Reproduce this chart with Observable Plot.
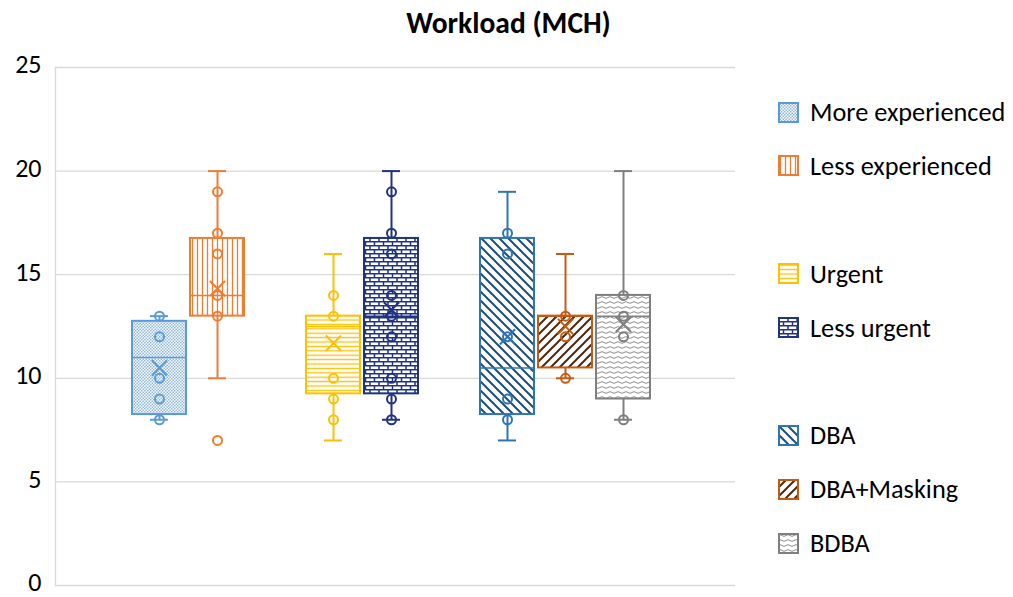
<!DOCTYPE html>
<html>
<head>
<meta charset="utf-8">
<script src="https://cdn.jsdelivr.net/npm/d3@7"></script>
<script src="https://cdn.jsdelivr.net/npm/@observablehq/plot@0.6"></script>
<style>
  html, body { margin: 0; padding: 0; background: #fff; }
  body { width: 1013px; height: 597px; position: relative; overflow: hidden; font-family: Carlito, Calibri, Lato, sans-serif; color: #000; }
  #title { position: absolute; left: 0; top: 5px; width: 1013px; text-align: center; font-weight: bold; font-size: 29.5px; height: 40px; line-height: 36px; padding-left: 4px; box-sizing: border-box; }
  #chart { position: absolute; left: 0; top: 45px; }
  #legend { position: absolute; left: 778px; top: 0; }
  .lg { position: absolute; left: 0; display: flex; align-items: center; white-space: nowrap; font-size: 26.3px; }
  .lg svg { margin-right: 11px; }
</style>
</head>
<body>
<svg width="0" height="0" style="position:absolute">
  <defs>
    <pattern id="p0" patternUnits="userSpaceOnUse" width="3" height="3">
      <rect width="3" height="3" fill="#fff"/>
      <rect width="1.5" height="1.5" fill="#8fb9e4"/>
      <rect x="1.5" y="1.5" width="1.5" height="1.5" fill="#8fb9e4"/>
    </pattern>
    <pattern id="p1" patternUnits="userSpaceOnUse" width="5" height="5">
      <rect width="5" height="5" fill="#fff"/>
      <path d="M2.5 0V5" stroke="#ED7D31" stroke-width="1.3"/>
    </pattern>
    <pattern id="p2" patternUnits="userSpaceOnUse" width="5" height="4.4">
      <rect width="5" height="4.4" fill="#fff"/>
      <path d="M0 2.2H5" stroke="#FFC000" stroke-width="1.3"/>
    </pattern>
    <pattern id="p3" patternUnits="userSpaceOnUse" width="9" height="8">
      <rect width="9" height="8" fill="#fff"/>
      <path d="M0 0.75H9M0 4.75H9M1 0.75V4.75M5.5 4.75V8.75" stroke="#1F3381" stroke-width="1.5"/>
    </pattern>
    <pattern id="p4" patternUnits="userSpaceOnUse" width="9" height="9">
      <rect width="9" height="9" fill="#fff"/>
      <path d="M-2.25 6.75L2.25 11.25M0 0L9 9M6.75 -2.25L11.25 2.25" stroke="#1F4E79" stroke-width="2"/>
    </pattern>
    <pattern id="p5" patternUnits="userSpaceOnUse" width="9" height="9">
      <rect width="9" height="9" fill="#fff"/>
      <path d="M-2.25 2.25L2.25 -2.25M0 9L9 0M6.75 11.25L11.25 6.75" stroke="#4a2a12" stroke-width="2"/>
    </pattern>
    <pattern id="p6" patternUnits="userSpaceOnUse" width="8" height="5">
      <rect width="8" height="5" fill="#fff"/>
      <path d="M0 2.5Q2 0.8 4 2.5T8 2.5" fill="none" stroke="#8c8c8c" stroke-width="1"/>
    </pattern>
  </defs>
</svg>
<div id="title">Workload (MCH)</div>
<div id="chart"></div>
<div id="legend"></div>
<script>
// ---- data ----
const series = ["More experienced", "Less experienced", "Urgent", "Less urgent", "DBA", "DBA+Masking", "BDBA"];
const xSlots = ["More experienced", "Less experienced", "gap1", "Urgent", "Less urgent", "gap2", "DBA", "DBA+Masking", "BDBA"];
const colors = ["#5B9BD5", "#ED7D31", "#FFC000", "#1F3381", "#2E75B6", "#C55A11", "#7F7F7F"];
const patterns = ["p0", "p1", "p2", "p3", "p4", "p5", "p6"];
const q1 = [8.25, 13, 9.25, 9.25, 8.25, 10.5, 9];
const q3 = [12.75, 16.75, 13, 16.75, 16.75, 13, 14];
const medians = [11, 14, 12.5, 13, 10.5, 13, 13];
const means = [10.5, 14.33, 11.7, 13.3, 12.0, 12.5, 12.6];
const whiskerLo = [8, 10, 7, 8, 7, 10, 8];
const whiskerHi = [13, 20, 16, 20, 19, 16, 20];
const points = [
  [8, 9, 10, 12, 13],
  [7, 13, 14, 16, 17, 19],
  [8, 9, 10, 13, 14],
  [8, 9, 10, 12, 13, 14, 16, 17, 19],
  [8, 9, 12, 16, 17],
  [10, 12, 13],
  [8, 12, 13, 14]
];
const yTicks = [0, 5, 10, 15, 20, 25];
const legendGroups = [["More experienced", "Less experienced"], ["Urgent", "Less urgent"], ["DBA", "DBA+Masking", "BDBA"]];

// ---- tables ----
const rows = series.map((s, i) => ({
  s, q1: q1[i], q3: q3[i], med: medians[i], mean: means[i],
  lo: whiskerLo[i], hi: whiskerHi[i], color: colors[i], fill: `url(#${patterns[i]})`
}));
const pts = series.flatMap((s, i) => points[i].map(v => ({s, v, color: colors[i]})));

const plot = Plot.plot({
  width: 745,
  height: 552,
  marginTop: 22,
  marginBottom: 12,
  marginLeft: 55,
  marginRight: 10,
  style: {fontFamily: "Carlito, Calibri, Lato, sans-serif", fontSize: "26px", color: "#000", background: "transparent", overflow: "visible"},
  x: {type: "band", domain: xSlots, range: [130, 652], paddingInner: 0.07, paddingOuter: 0.035, axis: null},
  y: {domain: [0, 25]},
  color: {type: "identity"},
  marks: [
    Plot.ruleY(yTicks, {stroke: "#d9d9d9", strokeWidth: 1.3}),
    Plot.frame({anchor: "left", stroke: "#d9d9d9", strokeWidth: 1.3}),
    Plot.axisY({ticks: yTicks, tickSize: 0, tickPadding: 14, fontSize: 26, fill: "#000", dy: -2.5}),
    Plot.ruleX(rows, {x: "s", y1: "lo", y2: "q1", stroke: "color", strokeWidth: 2}),
    Plot.ruleX(rows, {x: "s", y1: "q3", y2: "hi", stroke: "color", strokeWidth: 2}),
    Plot.tickY(rows, {x: "s", y: "lo", stroke: "color", strokeWidth: 2, insetLeft: 18, insetRight: 18}),
    Plot.tickY(rows, {x: "s", y: "hi", stroke: "color", strokeWidth: 2, insetLeft: 18, insetRight: 18}),
    Plot.barY(rows, {x: "s", y1: "q1", y2: "q3", fill: "fill", stroke: "color", strokeWidth: 2}),
    Plot.tickY(rows, {x: "s", y: "med", stroke: "color", strokeWidth: 1.5}),
    Plot.dot(pts, {x: "s", y: "v", r: 4.5, stroke: "color", strokeWidth: 2, fill: "none"}),
    Plot.dot(rows, {x: "s", y: "mean", symbol: "times", r: 7, stroke: "color", strokeWidth: 2})
  ]
});
document.getElementById("chart").appendChild(plot);

// ---- legend ----
const legend = document.getElementById("legend");
const rowStep = 53.9;
let r = 0;
legendGroups.forEach((g, gi) => {
  g.forEach(name => {
    const i = series.indexOf(name);
    const div = document.createElement("div");
    div.className = "lg";
    div.style.top = (112 + r * rowStep - 15) + "px";
    div.style.height = "30px";
    div.innerHTML = `<svg width="21" height="21"><rect x="1" y="1" width="19" height="19" fill="url(#${patterns[i]})" stroke="${colors[i]}" stroke-width="2"/></svg><span>${name}</span>`;
    legend.appendChild(div);
    r++;
  });
  r++;
});
</script>
</body>
</html>
